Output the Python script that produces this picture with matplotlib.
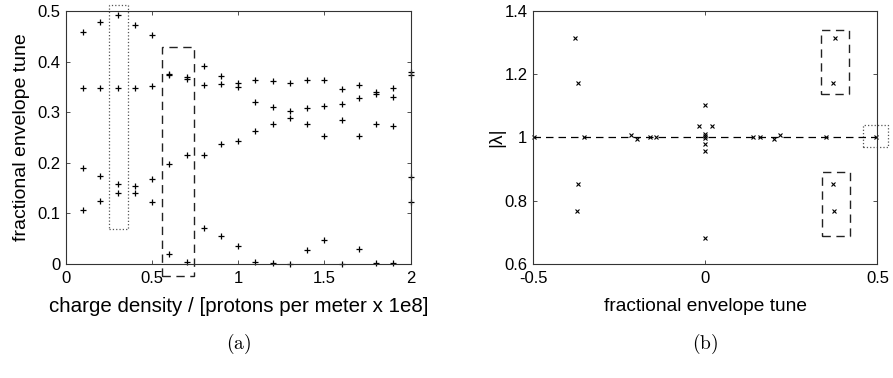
import numpy as np
import matplotlib.pyplot as plt
from matplotlib.patches import Rectangle
from matplotlib.ticker import FormatStrFormatter

plt.rcParams['font.family'] = ['Liberation Sans', 'DejaVu Sans']
plt.rcParams['mathtext.fontset'] = 'cm'

# (a) envelope tunes vs charge density
rho = [0.1, 0.2, 0.3, 0.4, 0.5, 0.6, 0.7, 0.8, 0.9, 1.0,
       1.1, 1.2, 1.3, 1.4, 1.5, 1.6, 1.7, 1.8, 1.9, 2.0]
tune1 = [0.458, 0.478, 0.493, 0.473, 0.453, 0.376, 0.369, 0.392, 0.372, 0.358,
         0.364, 0.361, 0.357, 0.363, 0.364, 0.346, 0.353, 0.339, 0.347, 0.380]
tune2 = [0.348, 0.348, 0.348, 0.348, 0.351, 0.373, 0.366, 0.354, 0.355, 0.349,
         0.321, 0.311, 0.303, 0.309, 0.313, 0.317, 0.329, 0.336, 0.331, 0.373]
tune3 = [0.190, 0.174, 0.158, 0.155, 0.167, 0.198, 0.215, 0.215, 0.237, 0.244,
         0.263, 0.277, 0.288, 0.276, 0.253, 0.285, 0.253, 0.277, 0.272, 0.171]
tune4 = [0.107, 0.125, 0.141, 0.141, 0.122, 0.019, 0.003, 0.072, 0.056, 0.036,
         0.003, 0.002, 0.000, 0.027, 0.048, 0.000, 0.029, 0.001, 0.001, 0.122]

# (b) eigenvalue modulus vs fractional tune
tune_b = [-0.496, -0.377, -0.368, -0.368, -0.373, -0.351, -0.215, -0.199, -0.160, -0.142,
          -0.017, 0.020, 0.0, 0.0, 0.0, 0.0, 0.0, 0.0, 0.0,
          0.140, 0.158, 0.201, 0.218, 0.352, 0.378, 0.370, 0.370, 0.375, 0.497]
lam_abs = [1.0, 1.314, 1.171, 0.854, 0.769, 1.0, 1.009, 0.996, 1.0, 1.0,
           1.037, 1.037, 1.104, 1.012, 1.005, 0.999, 0.978, 0.958, 0.683,
           1.0, 1.0, 0.996, 1.007, 1.0, 1.314, 1.172, 0.854, 0.769, 1.0]

fig = plt.figure(figsize=(8.93, 3.78), dpi=100)
ax1 = fig.add_axes([0.0739, 0.3016, 0.3858, 0.6693])
ax2 = fig.add_axes([0.5969, 0.3016, 0.3857, 0.6693])

axcol = '#333333'
for ax in (ax1, ax2):
    for s in ax.spines.values():
        s.set_color(axcol)
        s.set_linewidth(0.8)
    ax.tick_params(direction='in', top=True, right=True, length=3, width=0.6,
                   color=axcol, labelsize=12, pad=4)
    ax.tick_params(axis='x', pad=5)

for t in (tune1, tune2, tune3, tune4):
    ax1.plot(rho, t, 'k+', ms=5, mew=0.9, clip_on=False)
ax1.set_xlim(0, 2)
ax1.set_ylim(0, 0.5)
ax1.set_xticks([0, 0.5, 1, 1.5, 2])
ax1.set_yticks([0, 0.1, 0.2, 0.3, 0.4, 0.5])
ax1.xaxis.set_major_formatter(FormatStrFormatter('%g'))
ax1.yaxis.set_major_formatter(FormatStrFormatter('%g'))
ax1.set_xlabel('charge density / [protons per meter x 1e8]', fontsize=14.8, labelpad=8)
ax1.set_ylabel('fractional envelope tune', fontsize=14, labelpad=5)
ax1.add_patch(Rectangle((0.25, 0.069), 0.11, 0.443, fill=False, ls=':',
                        lw=0.9, ec='#555555', clip_on=False))
ax1.add_patch(Rectangle((0.556, -0.024), 0.188, 0.453, fill=False,
                        ls=(0, (6, 4)), lw=1.0, ec='#222222', clip_on=False))

ax2.axhline(1, color='k', ls=(0, (6, 4)), lw=0.9)
ax2.plot(tune_b, lam_abs, 'kx', ms=3.2, mew=0.8, clip_on=False)
ax2.set_xlim(-0.5, 0.5)
ax2.set_ylim(0.6, 1.4)
ax2.set_xticks([-0.5, 0, 0.5])
ax2.set_yticks([0.6, 0.8, 1, 1.2, 1.4])
ax2.xaxis.set_major_formatter(FormatStrFormatter('%g'))
ax2.yaxis.set_major_formatter(FormatStrFormatter('%g'))
ax2.set_xlabel('fractional envelope tune', fontsize=13.8, labelpad=9)
ax2.set_ylabel('|λ|', fontsize=13.8)
ax2.yaxis.set_label_coords(-0.08, 0.5)
ax2.add_patch(Rectangle((0.336, 1.138), 0.082, 0.203, fill=False,
                        ls=(0, (6, 4)), lw=1.0, ec='#222222'))
ax2.add_patch(Rectangle((0.339, 0.690), 0.080, 0.200, fill=False,
                        ls=(0, (6, 4)), lw=1.0, ec='#222222'))
ax2.add_patch(Rectangle((0.459, 0.969), 0.071, 0.071, fill=False, ls=':',
                        lw=0.9, ec='#555555', clip_on=False))

fig.text(0.2668, 0.09, r'$\mathrm{(a)}$', ha='center', va='center', fontsize=14)
fig.text(0.7897, 0.09, r'$\mathrm{(b)}$', ha='center', va='center', fontsize=14)

fig.savefig('out.png', dpi=100)
